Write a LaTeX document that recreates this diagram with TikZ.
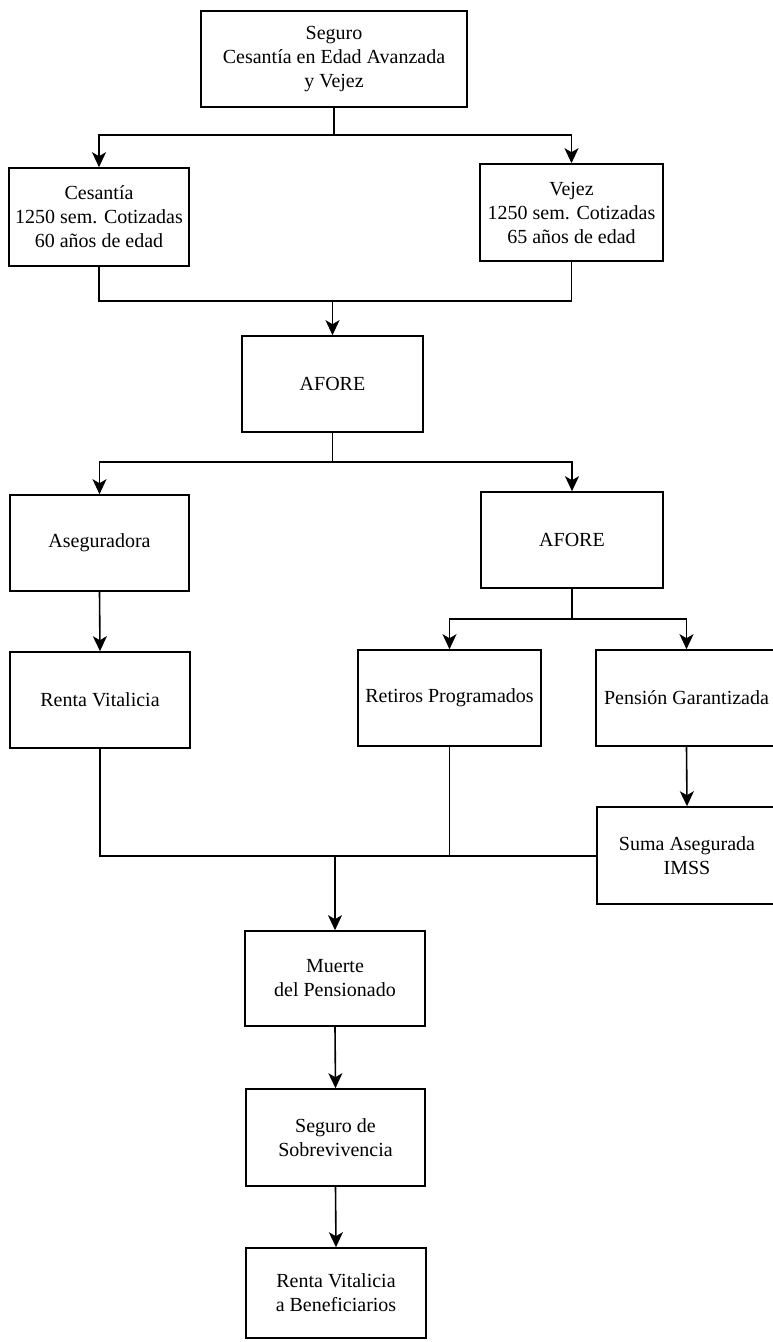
\documentclass[tikz,border=0pt]{standalone}
\usepackage{fontspec}
\setmainfont{Liberation Serif}
\usetikzlibrary{arrows.meta}
\tikzset{
  caja/.style={draw, line width=1.6pt, align=center, inner sep=0pt,
    font=\fontsize{20}{24}\selectfont},
  linea/.style={line width=1.6pt},
  flecha/.style={line width=1.6pt, -{Stealth[length=15pt,width=14pt,inset=4pt]}}
}
\begin{document}
\begin{tikzpicture}[x=1pt,y=-1pt]
            \useasboundingbox (0,0) rectangle (773,1342);
            % cajas
            \node[caja, minimum width=266pt, minimum height=96pt] (seguro) at (334,59) {Seguro\\Cesantía en Edad Avanzada\\y Vejez};
            \node[caja, minimum width=180pt, minimum height=98pt] (cesantia) at (99,217) {Cesantía\\1250 sem. Cotizadas\\60 años de edad};
            \node[caja, minimum width=183pt, minimum height=97pt] (vejez) at (571.5,212.5) {Vejez\\1250 sem. Cotizadas\\65 años de edad};
            \node[caja, minimum width=181pt, minimum height=96pt] (afore) at (332.5,384) {AFORE};
            \node[caja, minimum width=179pt, minimum height=96pt] (aseguradora) at (99.5,543) {Aseguradora};
            \node[caja, minimum width=182pt, minimum height=96pt] (aforeb) at (572,540) {AFORE};
            \node[caja, minimum width=180pt, minimum height=96pt] (renta) at (100,700) {Renta Vitalicia};
            \node[caja, minimum width=183pt, minimum height=96pt] (retiros) at (449.5,698) {Retiros Programados};
            \node[caja, minimum width=181pt, minimum height=96pt] (pension) at (686.5,698) {Pensión Garantizada};
            \node[caja, minimum width=180pt, minimum height=97pt] (suma) at (687,855.5) {Suma Asegurada\\IMSS};
            \node[caja, minimum width=180pt, minimum height=95pt] (muerte) at (335,978.5) {Muerte\\del Pensionado};
            \node[caja, minimum width=179pt, minimum height=97pt] (sobrevivencia) at (335.5,1137.5) {Seguro de\\Sobrevivencia};
            \node[caja, minimum width=180pt, minimum height=90pt] (beneficiarios) at (336,1293) {Renta Vitalicia\\a Beneficiarios};
            % conexiones
            \coordinate (r1) at (334,135);
            \draw[linea] (seguro.south) -- (r1);
            \draw[flecha] (r1) -| (cesantia.north);
            \draw[flecha] (r1) -| (vejez.north);
            \coordinate (r2) at (332.5,301);
            \draw[linea] (cesantia.south) |- (r2) -| (vejez.south);
            \draw[flecha] (r2) -- (afore.north);
            \coordinate (r3) at (332.5,462);
            \draw[linea] (afore.south) -- (r3);
            \draw[flecha] (r3) -| (aseguradora.north);
            \draw[flecha] (r3) -| (aforeb.north);
            \draw[flecha] (aseguradora.south) -- (renta.north);
            \coordinate (r4) at (572,619);
            \draw[linea] (aforeb.south) -- (r4);
            \draw[flecha] (r4) -| (retiros.north);
            \draw[flecha] (r4) -| (pension.north);
            \draw[flecha] (pension.south) -- (suma.north);
            \coordinate (r5) at (335,856);
            \draw[linea] (renta.south) |- (suma.west |- r5);
            \draw[linea] (retiros.south) -- (retiros.south |- r5);
            \draw[flecha] (r5) -- (muerte.north);
            \draw[flecha] (muerte.south) -- (sobrevivencia.north);
            \draw[flecha] (sobrevivencia.south) -- (beneficiarios.north);
          \end{tikzpicture}
\end{document}
